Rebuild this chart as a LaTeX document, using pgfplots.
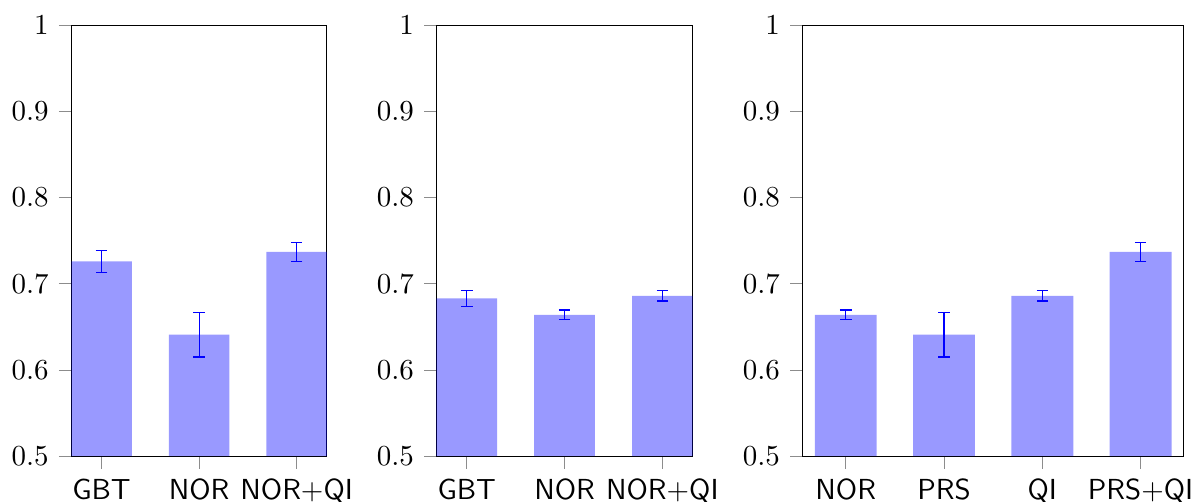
\documentclass[border=0pt]{standalone}
\usepackage{pgfplots}
\pgfplotsset{compat=1.18}
\usepackage{pgfplotstable}

\pgfplotstableread{
x y e
0 0.726 0.013
1 0.641 0.026
2 0.737 0.011
}\tabA
\pgfplotstableread{
x y e
0 0.683 0.009
1 0.664 0.0055
2 0.686 0.006
}\tabB
\pgfplotstableread{
x y e
0 0.664 0.0055
1 0.641 0.026
2 0.686 0.006
3 0.737 0.011
}\tabC

\pgfplotsset{
  panel/.style={
    scale only axis,
    anchor=south west,
    height=148.7pt,
    ymin=0.5, ymax=1,
    ytick={0.5,0.6,0.7,0.8,0.9,1},
    yticklabels={0.5,0.6,0.7,0.8,0.9,1},
    xtick={0,1,2,3},
    tick align=outside,
    tick pos=left,
    major tick style={black!45},
    xticklabel style={font=\sffamily},
    ybar,
  },
  bars/.style={
    color=blue, fill=blue, fill opacity=0.4, draw=none,
    error bars/.cd, y dir=both, y explicit,
    error bar style={draw=blue, draw opacity=1, line width=0.4pt},
    error mark options={rotate=90, draw=blue, draw opacity=1, line width=0.4pt},
  },
}

\begin{document}
\begin{tikzpicture}
\path[use as bounding box] (0,0) rectangle (412pt,172.9pt);

\begin{axis}[panel, at={(24.6pt,15.5pt)}, width=88.2pt,
  xmin=-0.31, xmax=2.31, bar width=0.62,
  xticklabels={GBT,NOR,NOR+QI}]
  \addplot[bars] table[x=x, y=y, y error=e] {\tabA};
\end{axis}

\begin{axis}[panel, at={(150.6pt,15.5pt)}, width=88.4pt,
  xmin=-0.31, xmax=2.31, bar width=0.62,
  xticklabels={GBT,NOR,NOR+QI}]
  \addplot[bars] table[x=x, y=y, y error=e] {\tabB};
\end{axis}

\begin{axis}[panel, at={(276.9pt,15.5pt)}, width=131.6pt,
  xmin=-0.44, xmax=3.44, bar width=0.63,
  xticklabels={NOR,PRS,QI,PRS+QI}]
  \addplot[bars] table[x=x, y=y, y error=e] {\tabC};
\end{axis}
\end{tikzpicture}
\end{document}
